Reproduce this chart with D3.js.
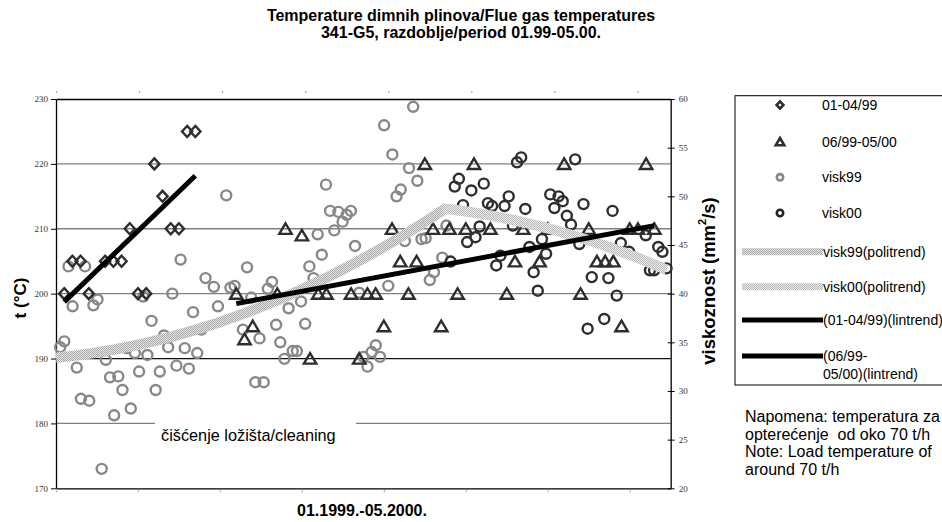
<!DOCTYPE html>
<html>
<head>
	<meta charset="utf-8">
	<script src="https://cdnjs.cloudflare.com/ajax/libs/d3/7.8.5/d3.min.js"></script>
	<style>
		body { margin: 0; background: #fff; }
		svg { font-family: "Liberation Sans", Arial, sans-serif; }
		.num-axis text { font-family: "Liberation Serif", "Times New Roman", serif; font-size: 9px; fill: #333; }
		.num-axis path { stroke: #000; stroke-width: 1.3; }
		.num-axis line { stroke: #000; }
		.cat-axis path { stroke: #000; stroke-width: 1.3; }
		.cat-axis line { stroke: #aaa; stroke-width: 1.2; }
		.cat-axis text { display: none; }
		.title { font-weight: bold; font-size: 16px; text-anchor: middle; }
		.legend text { font-size: 14px; }
		.note { font-size: 16px; white-space: pre; }
	</style>
</head>
<body>
	<svg width="942" height="522"></svg>
	<script>
	// temperature series (primary axes), x = sample number
	var diamondX = [1, 2, 3, 4, 6, 7, 8, 9, 10, 11, 12, 13, 14, 15, 16, 17];
	var diamondT = [200, 205, 205, 200, 205, 205, 205, 210, 200, 200, 220, 215, 210, 210, 225, 225];

	var triX = [22, 23, 24, 27, 28, 30, 31, 32, 33, 36, 37, 38, 39, 40, 41, 42, 43, 44, 45, 46, 47,
		48, 49, 50, 51, 53, 55, 56, 57, 59, 60, 62, 64, 65, 66, 67, 68, 69, 70, 71, 72, 73];
	var triT = [200, 193, 195, 200, 210, 209, 190, 200, 200, 200, 190, 200, 200, 195, 210, 205, 200, 205, 220, 210, 195,
		210, 200, 210, 220, 210, 200, 205, 210, 205, 210, 220, 200, 210, 205, 205, 205, 195, 210, 210, 220, 210];

	// viscosity series (secondary axes), x = day number
	var visk99X = [1, 2, 3, 4, 5, 6, 7, 8, 9, 10, 11, 12, 13, 14, 15, 16, 17, 18, 19, 20, 21, 22, 23, 24, 25, 26, 27, 28, 29, 30,
		31, 32, 33, 34, 35, 36, 38, 39, 41, 42, 43, 45, 46, 47, 48, 49, 50, 51, 52, 53, 54, 55, 56, 57, 58, 59, 60,
		61, 62, 63, 64, 65, 66, 67, 68, 69, 70, 71, 72, 73, 74, 75, 76, 77, 78, 79, 80, 81, 82, 83, 84, 85, 86, 87,
		88, 89, 90, 91, 93, 94];
	var visk99V = [34.5, 35.1, 42.8, 38.7, 32.4, 29.2, 42.8, 29.0, 38.8, 39.4, 22.0, 33.2, 31.4, 27.5, 31.5, 30.1, 34.4, 28.2, 33.9, 32.0,
		39.7, 33.7, 37.2, 30.1, 32.0, 35.7, 34.5, 40.0, 32.6, 43.5, 34.4, 32.3, 38.1, 33.9, 36.3, 41.6, 40.7, 38.7, 50.1, 40.6, 40.8,
		36.3, 42.7, 39.6, 30.9, 35.4, 30.9, 40.5, 41.2, 36.8, 35.0, 33.3, 38.5, 34.1, 34.1, 39.2, 36.9, 42.8, 41.6, 46.1, 44.0,
		51.2, 48.5, 46.5, 48.4, 47.4, 48.1, 48.5, 44.9, 40.1, 33.5, 32.5, 34.0, 34.7, 33.5, 57.3, 40.8, 54.3, 50.0, 50.7, 45.4,
		52.9, 59.2, 51.6, 45.6, 45.7, 41.4, 42.2, 43.7, 47.0];

	var visk00X = [95, 96, 97, 98, 99, 100, 101, 102, 103, 104, 105, 106, 107, 108, 109, 110, 111, 112, 113, 114, 115, 116, 117,
		118, 119, 120, 121, 122, 123, 124, 125, 126, 127, 128, 129, 132, 133, 134, 135, 136, 138, 142, 143, 144, 145, 146, 147];
	var visk00V = [43.3, 51.0, 51.8, 49.1, 45.3, 50.6, 45.8, 46.9, 51.3, 49.3, 49.0, 42.9, 43.9, 49.0, 50.0, 47.0, 53.5, 54.0, 48.7,
		44.8, 42.2, 40.3, 45.6, 44.1, 50.2, 48.8, 50.0, 49.5, 48.0, 47.1, 53.8, 45.1, 49.2, 36.4, 41.7, 37.4, 41.6, 48.5, 39.8,
		45.2, 44.3, 46.0, 42.4, 42.4, 44.8, 44.3, 42.6];

	var tempTicks = [170, 180, 190, 200, 210, 220, 230];
	var viscTicks = [20, 25, 30, 35, 40, 45, 50, 55, 60];

	var titleLines = ["Temperature dimnih plinova/Flue gas temperatures", "341-G5, razdoblje/period 01.99-05.00."];
	var legendItems = ["01-04/99", "06/99-05/00", "visk99", "visk00", "visk99(politrend)", "visk00(politrend)",
		"(01-04/99)(lintrend)", ["(06/99-", "05/00)(lintrend)"]];
	var noteLines = ["Napomena: temperatura za", "opterećenje  od oko 70 t/h", "Note: Load temperature of", "around 70 t/h"];

	var svg = d3.select("svg"),
		plot = {left: 56, right: 670.7, top: 99, bottom: 488.3};

	var x1 = d3.scaleLinear().domain([0, 75]).range([plot.left, plot.right]),
		x2 = d3.scaleLinear().domain([0, 148]).range([plot.left, plot.right]),
		yT = d3.scaleLinear().domain([170, 230]).range([plot.bottom, plot.top]),
		yV = d3.scaleLinear().domain([20, 60]).range([plot.bottom, plot.top]);

	// least squares polynomial, like the spreadsheet trendlines
	function polyfit(xs, ys, deg) {
		var mx = d3.mean(xs), sx = d3.deviation(xs), n = deg + 1;
		var A = d3.range(n).map(function() { return new Array(n + 1).fill(0); });
		xs.forEach(function(xv, i) {
			var u = (xv - mx) / sx;
			for (var r = 0; r < n; r++) {
				for (var c = 0; c < n; c++) A[r][c] += Math.pow(u, r + c);
				A[r][n] += ys[i] * Math.pow(u, r);
			}
		});
		for (var i = 0; i < n; i++) {
			for (var k = i + 1; k < n; k++) {
				var f = A[k][i] / A[i][i];
				for (var j = i; j <= n; j++) A[k][j] -= f * A[i][j];
			}
		}
		var coef = new Array(n).fill(0);
		for (var i2 = n - 1; i2 >= 0; i2--) {
			var s = A[i2][n];
			for (var j2 = i2 + 1; j2 < n; j2++) s -= A[i2][j2] * coef[j2];
			coef[i2] = s / A[i2][i2];
		}
		return function(xv) {
			var u = (xv - mx) / sx;
			return coef.reduce(function(acc, c, p) { return acc + c * Math.pow(u, p); }, 0);
		};
	}

	// stipple patterns for the polynomial trend bands
	var defs = svg.append("defs");
	[["dots99", "#e4e4e4", "#aaaaaa"], ["dots00", "#ececec", "#b8b8b8"]].forEach(function(p) {
		var pat = defs.append("pattern").attr("id", p[0]).attr("width", 2).attr("height", 2)
			.attr("patternUnits", "userSpaceOnUse");
		pat.append("rect").attr("width", 2).attr("height", 2).attr("fill", p[1]);
		pat.append("rect").attr("width", 1).attr("height", 1).attr("fill", p[2]);
		pat.append("rect").attr("x", 1).attr("y", 1).attr("width", 1).attr("height", 1).attr("fill", p[2]);
	});

	// title
	svg.selectAll(".title").data(titleLines).enter().append("text")
		.attr("class", "title")
		.attr("x", 461)
		.attr("y", function(d, i) { return 20.5 + i * 17.5; })
		.text(function(d) { return d; });

	// gridlines
	svg.append("g").selectAll("line").data([180, 190, 200, 210, 220]).enter().append("line")
		.attr("x1", plot.left).attr("x2", plot.right)
		.attr("y1", function(d) { return yT(d); }).attr("y2", function(d) { return yT(d); })
		.attr("stroke", function(d) { return d === 190 ? "#111" : "#808080"; })
		.attr("stroke-width", 1.3);

	// cleaning annotation (box covers the gridline)
	svg.append("rect").attr("x", 155).attr("y", 410).attr("width", 201).attr("height", 48).attr("fill", "#fff");
	svg.append("text").attr("x", 161).attr("y", 441).attr("font-size", 16.3)
		.text("čišćenje ložišta/cleaning");

	// axes
	svg.append("g").attr("class", "num-axis")
		.attr("transform", "translate(" + plot.left + ",0)")
		.call(d3.axisLeft(yT).tickValues(tempTicks).tickSizeInner(5).tickSizeOuter(0).tickPadding(3));
	svg.append("g").attr("class", "num-axis")
		.attr("transform", "translate(" + plot.right + ",0)")
		.call(d3.axisRight(yV).tickValues(viscTicks).tickSizeInner(4).tickSizeOuter(0).tickPadding(4))
		.selectAll(".tick line").attr("x1", -3);
	var bx = svg.append("g").attr("class", "cat-axis")
		.attr("transform", "translate(0," + plot.bottom + ")")
		.call(d3.axisBottom(x1).tickValues(d3.range(0, 71, 10)).tickSizeOuter(0));
	bx.selectAll(".tick line").attr("y1", 2).attr("y2", 4);
	var tx = svg.append("g").attr("class", "cat-axis")
		.attr("transform", "translate(0," + plot.top + ")")
		.call(d3.axisTop(x2).tickValues(d3.range(0, 141, 20)).tickSizeOuter(0));
	tx.selectAll(".tick line").attr("y1", -6).attr("y2", -8);

	// axis titles
	svg.append("text").attr("transform", "translate(20,298) rotate(-90)")
		.attr("text-anchor", "middle").attr("dominant-baseline", "central")
		.attr("font-weight", "bold").attr("font-size", 17).text("t (°C)");
	var vt = svg.append("text").attr("transform", "translate(708,281) rotate(-90)")
		.attr("text-anchor", "middle").attr("dominant-baseline", "central")
		.attr("font-weight", "bold").attr("font-size", 18.5);
	vt.append("tspan").text("viskoznost (mm");
	vt.append("tspan").attr("font-size", 11).attr("dy", -6).text("2");
	vt.append("tspan").attr("dy", 6).text("/s)");
	svg.append("text").attr("x", 362).attr("y", 516).attr("text-anchor", "middle")
		.attr("font-weight", "bold").attr("font-size", 16).text("01.1999.-05.2000.");

	// marker shapes
	function diamondPath(s) { return "M0," + (-s * 1.08) + "L" + s + ",0L0," + (s * 1.08) + "L" + (-s) + ",0Z"; }
	function trianglePath(s) { return "M0," + (-s) + "L" + (s * 1.15) + "," + (s * 0.95) + "L" + (-s * 1.15) + "," + (s * 0.95) + "Z"; }

	var g = svg.append("g");

	g.selectAll(".v99").data(visk99X).enter().append("circle")
		.attr("class", "v99")
		.attr("cx", function(d) { return x2(d); })
		.attr("cy", function(d, i) { return yV(visk99V[i]); })
		.attr("r", 5).attr("fill", "none").attr("stroke", "#888").attr("stroke-width", 2.4);

	g.selectAll(".v00").data(visk00X).enter().append("circle")
		.attr("class", "v00")
		.attr("cx", function(d) { return x2(d); })
		.attr("cy", function(d, i) { return yV(visk00V[i]); })
		.attr("r", 5).attr("fill", "none").attr("stroke", "#2e2e2e").attr("stroke-width", 2.4);

	g.selectAll(".dia").data(diamondX).enter().append("path")
		.attr("class", "dia")
		.attr("transform", function(d, i) { return "translate(" + x1(d) + "," + yT(diamondT[i]) + ")"; })
		.attr("d", diamondPath(5.1)).attr("fill", "none").attr("stroke", "#2e2e2e").attr("stroke-width", 2.4);

	g.selectAll(".tri").data(triX).enter().append("path")
		.attr("class", "tri")
		.attr("transform", function(d, i) { return "translate(" + x1(d) + "," + yT(triT[i]) + ")"; })
		.attr("d", trianglePath(5.4)).attr("fill", "none").attr("stroke", "#2e2e2e").attr("stroke-width", 2.4);

	// polynomial trend bands
	var p99 = polyfit(visk99X, visk99V, 2),
		p00 = polyfit(visk00X, visk00V, 2);
	var bandLine = function(fn) {
		return d3.line().x(function(d) { return x2(d); }).y(function(d) { return yV(fn(d)); });
	};
	g.append("path").datum(d3.range(0, d3.max(visk99X) + 0.01, 0.5))
		.attr("d", bandLine(p99)).attr("fill", "none")
		.attr("stroke", "url(#dots99)").attr("stroke-width", 10.5);
	g.append("path").datum(d3.range(d3.min(visk00X) - 2, d3.max(visk00X) + 0.01, 0.5))
		.attr("d", bandLine(p00)).attr("fill", "none")
		.attr("stroke", "url(#dots00)").attr("stroke-width", 10.5);

	// linear trends
	[[diamondX, diamondT], [triX, triT]].forEach(function(s) {
		var f = polyfit(s[0], s[1], 1), ends = d3.extent(s[0]);
		g.append("line")
			.attr("x1", x1(ends[0])).attr("y1", yT(f(ends[0])))
			.attr("x2", x1(ends[1])).attr("y2", yT(f(ends[1])))
			.attr("stroke", "#000").attr("stroke-width", 5);
	});

	// legend
	var lg = svg.append("g").attr("class", "legend");
	lg.append("rect").attr("x", 735).attr("y", 95.7).attr("width", 260).attr("height", 289.3)
		.attr("fill", "#fff").attr("stroke", "#000").attr("stroke-width", 1);
	var rowY = [105, 141.7, 177.3, 213, 251.7, 286.7, 320, 356];
	lg.append("path").attr("transform", "translate(780," + rowY[0] + ")").attr("d", diamondPath(3.4))
		.attr("fill", "none").attr("stroke", "#2e2e2e").attr("stroke-width", 2.6);
	lg.append("path").attr("transform", "translate(780," + rowY[1] + ")").attr("d", trianglePath(3.7))
		.attr("fill", "none").attr("stroke", "#2e2e2e").attr("stroke-width", 2.6);
	lg.append("circle").attr("cx", 780).attr("cy", rowY[2]).attr("r", 3.2)
		.attr("fill", "none").attr("stroke", "#888").attr("stroke-width", 2.6);
	lg.append("circle").attr("cx", 780).attr("cy", rowY[3]).attr("r", 3.2)
		.attr("fill", "none").attr("stroke", "#222").attr("stroke-width", 2.6);
	lg.append("rect").attr("x", 742).attr("y", rowY[4] - 3.5).attr("width", 81).attr("height", 7).attr("fill", "url(#dots99)");
	lg.append("rect").attr("x", 742).attr("y", rowY[5] - 3.5).attr("width", 81).attr("height", 7).attr("fill", "url(#dots00)");
	lg.append("rect").attr("x", 742).attr("y", rowY[6] - 2.5).attr("width", 81).attr("height", 5).attr("fill", "#000");
	lg.append("rect").attr("x", 742).attr("y", rowY[7] - 2.5).attr("width", 81).attr("height", 5).attr("fill", "#000");
	legendItems.forEach(function(item, i) {
		var lines = Array.isArray(item) ? item : [item];
		lines.forEach(function(t, k) {
			lg.append("text").attr("x", i < 4 ? 822 : 823).attr("y", rowY[i] + k * 17.5)
				.attr("dominant-baseline", "central").text(t);
		});
	});

	// note
	svg.selectAll(".note").data(noteLines).enter().append("text")
		.attr("class", "note")
		.attr("x", 745)
		.attr("y", function(d, i) { return 422 + i * 17.7; })
		.text(function(d) { return d; });
	</script>
</body>
</html>
